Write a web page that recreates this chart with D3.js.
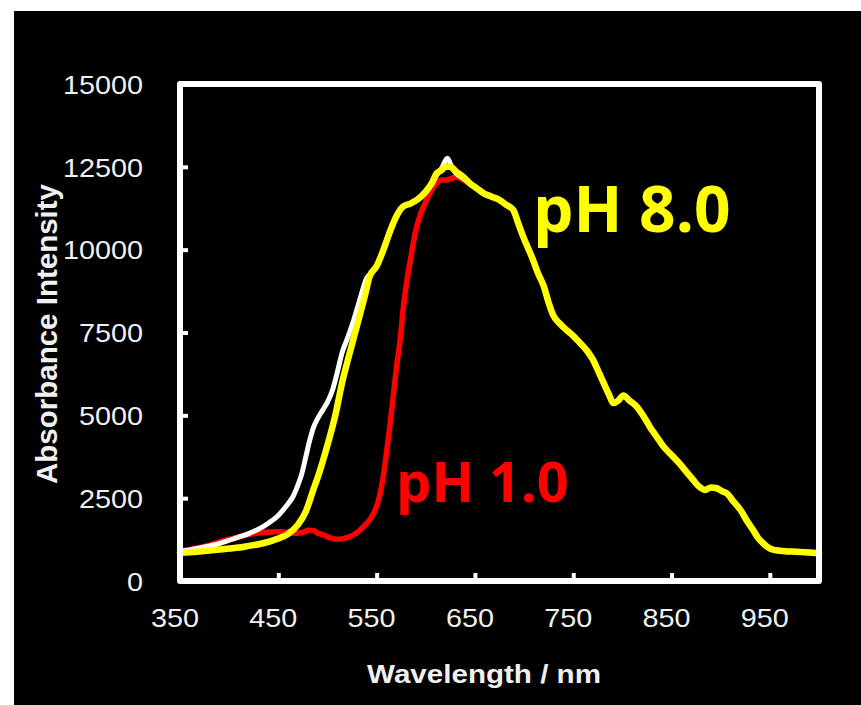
<!DOCTYPE html>
<html>
<head>
<meta charset="utf-8">
<script src="https://cdn.jsdelivr.net/npm/d3@7"></script>
<style>
  html, body { margin: 0; padding: 0; background: #ffffff; }
  svg { display: block; }
</style>
</head>
<body>
<svg id="chart" width="861" height="705"></svg>
<script>
// ---------------- DATA ----------------
const xTicks = [350, 450, 550, 650, 750, 850, 950];
const yTicks = [0, 2500, 5000, 7500, 10000, 12500, 15000];

// pH 8.0 (yellow) – rising part up to the peak
const pH8HeadWl  = [350,360,370,380,390,400,410,420,430,440,450,460,470,478,485,492,500,508,515,521,530,538,543,550,557,563,570,577,585,591,600,606,611,616,620,625,631,638];
const pH8HeadVal = [850,870,890,920,950,980,1010,1060,1110,1180,1280,1420,1700,2100,2700,3300,4100,5000,6000,6700,7700,8600,9200,9500,10000,10500,11000,11300,11400,11500,11750,12000,12300,12400,12500,12500,12350,12200];

// intermediate spectrum (white) – rising part up to the peak
const whiteHeadWl  = [350,360,370,380,390,400,410,420,428,435,442,450,455,460,465,470,474,478,482,486,490,495,500,505,510,515,520,527,533,540,545,550,557,563,570,577,585,591,600,606,611,616,622,627,631,638];
const whiteHeadVal = [900,940,1000,1060,1130,1230,1330,1430,1540,1650,1790,1980,2150,2330,2550,2900,3250,3750,4250,4650,4900,5150,5400,5750,6300,6900,7300,7900,8500,9150,9300,9500,10000,10500,11000,11300,11400,11500,11750,12000,12250,12450,12760,12450,12300,12150];

// pH 1.0 (red) – rising part up to the peak
const pH1HeadWl  = [350,360,370,380,390,400,410,420,430,440,450,460,468,475,481,486,490,496,502,509,516,523,530,537,543,548,552,555,558,561,564,567,570,574,577,581,585,590,595,601,606,611,616,621,626,631,638];
const pH1HeadVal = [900,950,1010,1080,1180,1260,1330,1400,1450,1480,1490,1470,1440,1470,1530,1520,1450,1390,1310,1260,1280,1340,1460,1650,1850,2100,2450,2850,3400,4100,4800,5600,6400,7300,8200,9100,9800,10600,11100,11500,11800,12000,12100,12100,12150,12200,12100];

// falling part where the three spectra coincide
const tailWl  = [645,652,659,667,675,682,689,694,699,704,709,714,720,725,730,737,743,750,757,764,770,776,781,786,791,796,801,807,815,822,828,835,842,850,858,865,872,878,884,890,896,902,906,913,920,927,933,938,943,948,954,965,977,990,1000];
const tailVal = [12000,11850,11700,11600,11500,11350,11200,10800,10400,10050,9700,9300,8900,8400,8000,7750,7580,7400,7180,6950,6680,6300,5970,5650,5370,5450,5600,5450,5250,4950,4650,4350,4050,3800,3550,3300,3050,2850,2750,2820,2800,2700,2650,2400,2150,1800,1540,1300,1140,1020,940,900,885,860,840];

const seriesNames  = ["pH 1.0", "intermediate", "pH 8.0"];
const seriesColors = ["#ff0000", "#ffffff", "#ffff00"];

// ---------------- BUILD ----------------
function zip(wl, val) { return wl.map((w, i) => ({ wl: w, v: val[i] })); }
const tailPts = zip(tailWl, tailVal);
const series = [
  { name: seriesNames[0], color: seriesColors[0], width: 5.5, pts: zip(pH1HeadWl, pH1HeadVal).concat(tailPts) },
  { name: seriesNames[1], color: seriesColors[1], width: 5,   pts: zip(whiteHeadWl, whiteHeadVal).concat(tailPts) },
  { name: seriesNames[2], color: seriesColors[2], width: 6.5, pts: zip(pH8HeadWl, pH8HeadVal).concat(tailPts) }
];

const svg = d3.select("#chart");
const W = 861, H = 705;

// black panel
svg.append("rect").attr("x", 14).attr("y", 11).attr("width", W - 14).attr("height", H - 11).attr("fill", "#000");

const pLeft = 180, pRight = 819, pTop = 84, pBottom = 581;
const x = d3.scaleLinear().domain([350, 1000]).range([pLeft, pRight]);
const y = d3.scaleLinear().domain([0, 15000]).range([pBottom, pTop]);

const sx = 1.13; // horizontal stretch of the label glyphs

// axes
const yAxis = svg.append("g").attr("transform", `translate(${pLeft},0)`)
  .call(d3.axisLeft(y).tickValues(yTicks).tickFormat(d3.format("d")).tickSize(-8).tickSizeOuter(0).tickPadding(0));
const xAxis = svg.append("g").attr("transform", `translate(0,${pBottom})`)
  .call(d3.axisBottom(x).tickValues(xTicks).tickFormat(d3.format("d")).tickSize(-8).tickSizeOuter(0).tickPadding(0));

[yAxis, xAxis].forEach(a => {
  a.select(".domain").remove();
  a.selectAll(".tick line").attr("stroke", "#fff").attr("stroke-width", 4);
  a.selectAll(".tick text")
    .attr("fill", "#f0f0f0")
    .attr("font-family", "'Liberation Sans', Arial, sans-serif")
    .attr("font-size", 25.5);
});
yAxis.selectAll(".tick text")
  .attr("x", -37 / sx).attr("dy", "0.36em")
  .attr("text-anchor", "end")
  .attr("transform", `scale(${sx},1)`);
xAxis.selectAll(".tick text")
  .attr("x", -5.5 / sx).attr("y", 46).attr("dy", "0")
  .attr("text-anchor", "middle")
  .attr("transform", `scale(${sx},1)`);

// curves
const line = d3.line().x(d => x(d.wl)).y(d => y(d.v)).curve(d3.curveMonotoneX);
svg.append("g").selectAll("path").data(series).join("path")
  .attr("d", d => line(d.pts))
  .attr("fill", "none")
  .attr("stroke", d => d.color)
  .attr("stroke-width", d => d.width)
  .attr("stroke-linejoin", "round")
  .attr("stroke-linecap", "round");

// frame
svg.append("rect")
  .attr("x", pLeft).attr("y", pTop)
  .attr("width", pRight - pLeft).attr("height", pBottom - pTop)
  .attr("fill", "none").attr("stroke", "#fff").attr("stroke-width", 6)
  .attr("stroke-linejoin", "round");

// axis titles
svg.append("g").attr("transform", `translate(484,683) scale(1.16,1)`)
  .append("text")
  .attr("text-anchor", "middle")
  .attr("font-family", "'Liberation Sans', Arial, sans-serif")
  .attr("font-weight", "bold").attr("font-size", 25.5)
  .attr("fill", "#f0f0f0")
  .text("Wavelength / nm");

svg.append("text")
  .attr("transform", "translate(57,334) rotate(-90)")
  .attr("text-anchor", "middle")
  .attr("font-family", "'Liberation Sans', Arial, sans-serif")
  .attr("font-weight", "bold").attr("font-size", 29.5)
  .attr("fill", "#f0f0f0")
  .text("Absorbance Intensity");

// series labels
svg.append("text")
  .attr("x", 533).attr("y", 232)
  .attr("font-family", "'Open Sans', 'Noto Sans', sans-serif")
  .attr("font-weight", "bold").attr("font-size", 64)
  .attr("fill", seriesColors[2])
  .text("pH 8.0");

svg.append("text")
  .attr("x", 396).attr("y", 502)
  .attr("font-family", "'Open Sans', 'Noto Sans', sans-serif")
  .attr("font-weight", "bold").attr("font-size", 56)
  .attr("fill", seriesColors[0])
  .text("pH 1.0");
</script>
</body>
</html>
